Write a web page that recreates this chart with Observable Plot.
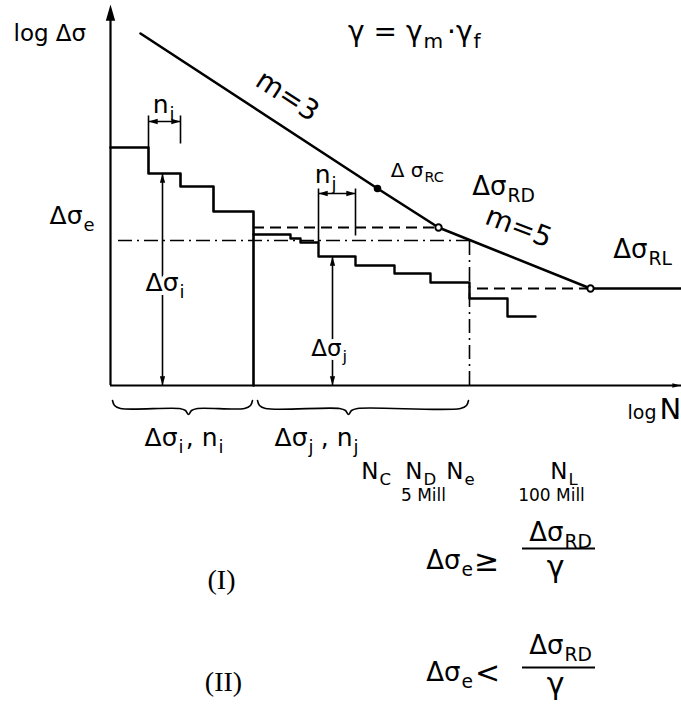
<!DOCTYPE html>
<html>
<head>
<meta charset="utf-8">
<script src="https://cdn.jsdelivr.net/npm/d3@7"></script>
<script src="https://cdn.jsdelivr.net/npm/@observablehq/plot@0.6"></script>
<style>
  html, body { margin: 0; padding: 0; background: #fff; }
</style>
</head>
<body>
<div id="chart"></div>
<script>
// ---- Data (x = log N units, y = log Δσ units, relative to axis origin) ----
// S-N curve: m=3 branch, knee at D, m=5 branch, cut-off at L
const curveLogN = [30, 267, 328, 480, 571];
const curveLogS = [352, 197, 158, 97, 97];

// characteristic points C, D, L
const pointName = ["RC", "RD", "RL"];
const pointLogN = [267, 328, 480];
const pointLogS = [197, 158, 97];
const pointOpen = [false, true, true];

// stress spectrum, block i
const blockI_N = [0, 38, 38, 70, 70, 103, 103, 143, 143];
const blockI_S = [238, 238, 212, 212, 199, 199, 174, 174, 0];
// stress spectrum, block j
const blockJ_N = [143, 180, 180, 190, 190, 208, 208, 245, 245, 284, 284, 320, 320, 359, 359, 397, 397, 425];
const blockJ_S = [151, 151, 147, 147, 143, 143, 129, 129, 120, 120, 112, 112, 103, 103, 87, 87, 69, 69];

// reference levels
const levelRD = 158, levelE = 145, levelRL = 97;
const logN_D = 328, logN_e = 359, logN_L = 480;

// dimension lines [x1, y1, x2, y2]
const dims = [
  [38, 264, 70, 264],   // n_i
  [52, 212, 52, 0],     // Δσ_i
  [208, 192, 245, 192], // n_j
  [222, 129, 222, 0]    // Δσ_j
];
const extTicks = [
  [38, 238, 38, 270], [70, 242, 70, 270],
  [208, 143, 208, 197], [245, 150, 245, 197]
];
// braces under the axis [start, end, tip]
const braces = [[2, 142, 78], [147, 358, 238]];

// labels with subscripts: [x (end of main), y baseline, main, sub, size, halo]
const subLabels = [
  [-28, 162, "Δσ", "e", 25, false],
  [68, 95, "Δσ", "i", 25, true],
  [58, 273, "n", "i", 25, false],
  [220, 203, "n", "j", 25, false],
  [231, 30, "Δσ", "j", 23, true],
  [313, 209, "Δ σ", "RC", 20, false],
  [396, 191, "Δσ", "RD", 26, false],
  [537, 128, "Δσ", "RL", 26, false],
  [312, 345, "γ = γ", "m", 28, false],
  [362, 345, "·γ", "f", 28, false],
  [67, -60, "Δσ", "i", 25, false],
  [107, -60, ", n", "i", 25, false],
  [197, -60, "Δσ", "j", 25, false],
  [242, -60, ", n", "j", 25, false],
  [268, -93, "N", "C", 23, false],
  [312, -93, "N", "D", 23, false],
  [353, -93, "N", "e", 23, false],
  [457, -93, "N", "L", 23, false],
  [350, -183, "Δσ", "e", 26, false],
  [453, -155, "Δσ", "RD", 26, false],
  [350, -295, "Δσ", "e", 26, false],
  [453, -268, "Δσ", "RD", 26, false]
];
// plain labels: [x, y, text, size, anchor, rotate, family]
const plainLabels = [
  [-97, 345, "log Δσ", 23, "start", 0, "sans"],
  [517, -33, "log", 19, "start", 0, "sans"],
  [549, -33, "N", 29, "start", 0, "sans"],
  [172, 282, "m=3", 28, "middle", 33, "sans"],
  [405, 150, "m=5", 28, "middle", 21, "sans"],
  [313, -115, "5 Mill", 17, "middle", 0, "sans"],
  [441, -115, "100 Mill", 17, "middle", 0, "sans"],
  [111, -203, "(I)", 28, "middle", 0, "serif"],
  [113, -305, "(II)", 28, "middle", 0, "serif"],
  [376, -185, "≥", 30, "middle", 0, "sans"],
  [377, -297, "<", 30, "middle", 0, "sans"],
  [445, -191, "γ", 30, "middle", 0, "sans"],
  [445, -308, "γ", 30, "middle", 0, "sans"]
];
const fractionY = [-163, -282];
const fractionX = [412, 485];

// ---- build ----
try {
const sans = "'DejaVu Sans',sans-serif";
const serif = "'Liberation Serif','DejaVu Serif',serif";
const zip = (a, b) => a.map((v, i) => ({x: v, y: b[i]}));

const arrowSym = {
  draw(ctx, size) {
    const s = Math.sqrt(size);
    ctx.moveTo(0, 0);
    ctx.lineTo(s * 0.33, s * 1.15);
    ctx.lineTo(-s * 0.33, s * 1.15);
    ctx.closePath();
  }
};

const heads = [];
dims.forEach(([x1, y1, x2, y2]) => {
  if (y1 === y2) {
    heads.push({x: x1, y: y1, r: x1 < x2 ? -90 : 90});
    heads.push({x: x2, y: y2, r: x2 > x1 ? 90 : -90});
  } else {
    heads.push({x: x1, y: y1, r: y1 > y2 ? 0 : 180});
    heads.push({x: x2, y: y2, r: y2 < y1 ? 180 : 0});
  }
});

const braceLines = braces.flatMap(([a, b, m], k) => {
  const top = -15, bar = -23, tip = -29;
  return [[a, top], [a + 2, bar + 3], [a + 8, bar], [m - 9, bar], [m - 3, bar - 2], [m, tip],
          [m + 3, bar - 2], [m + 9, bar], [b - 8, bar], [b - 2, bar + 3], [b, top]]
    .map(([x, y]) => ({x, y, k}));
});

const points = pointName.map((n, i) => ({name: n, x: pointLogN[i], y: pointLogS[i], open: pointOpen[i]}));
const subs = subLabels.map(([x, y, main, sub, size, halo]) => ({x, y, main, sub, size, halo}));
const plains = plainLabels.map(([x, y, text, size, anchor, rotate, fam]) => ({x, y, text, size, anchor, rotate, fam}));

const textMarks = [];
for (const anchor of ["start", "middle", "end"]) {
  for (const fam of ["sans", "serif"]) {
    const d = plains.filter(p => p.anchor === anchor && p.fam === fam);
    if (!d.length) continue;
    textMarks.push(Plot.text(d, {
      x: "x", y: "y", text: "text", fontSize: "size", rotate: "rotate",
      textAnchor: anchor, lineAnchor: "bottom",
      fontFamily: fam === "sans" ? sans : serif, fill: "black"
    }));
  }
}

const chart = Plot.plot({
  width: 681,
  height: 719,
  margin: 0,
  x: {domain: [-110, 571], range: [0, 681], axis: null},
  y: {domain: [-334, 385], range: [719, 0], axis: null},
  style: {fontFamily: sans, background: "white"},
  marks: [
    // axes
    Plot.ruleX([0], {y1: 0, y2: 372, stroke: "black", strokeWidth: 2.2}),
    Plot.ruleY([0], {x1: 0, x2: 571, stroke: "black", strokeWidth: 2.2}),
    Plot.dot([{x: 0, y: 381}], {x: "x", y: "y", symbol: arrowSym, r: 8, fill: "black", stroke: "none"}),
    Plot.dot([{x: 570, y: 0}], {x: "x", y: "y", symbol: arrowSym, r: 4, rotate: 90, fill: "black", stroke: "none"}),
    // reference lines
    Plot.ruleY([levelRD], {x1: 143, x2: logN_D, stroke: "black", strokeWidth: 1.8, strokeDasharray: "11,6"}),
    Plot.ruleY([levelE], {x1: 8, x2: logN_e, stroke: "black", strokeWidth: 1.6, strokeDasharray: "14,5,2,5"}),
    Plot.ruleX([logN_e], {y1: 0, y2: levelE, stroke: "black", strokeWidth: 1.6, strokeDasharray: "14,5,2,5"}),
    Plot.ruleY([levelRL], {x1: 367, x2: logN_L, stroke: "black", strokeWidth: 1.8, strokeDasharray: "11,6"}),
    // spectrum blocks
    Plot.line(zip(blockI_N, blockI_S), {x: "x", y: "y", stroke: "black", strokeWidth: 2.6}),
    Plot.line(zip(blockJ_N, blockJ_S), {x: "x", y: "y", stroke: "black", strokeWidth: 2.4}),
    // S-N curve
    Plot.line(zip(curveLogN, curveLogS), {x: "x", y: "y", stroke: "black", strokeWidth: 2.6}),
    // dimension lines
    Plot.link(extTicks, {x1: d => d[0], y1: d => d[1], x2: d => d[2], y2: d => d[3], stroke: "black", strokeWidth: 1.6}),
    Plot.link(dims, {x1: d => d[0], y1: d => d[1], x2: d => d[2], y2: d => d[3], stroke: "black", strokeWidth: 1.6}),
    Plot.dot(heads, {x: "x", y: "y", rotate: "r", symbol: arrowSym, r: 4.5, fill: "black", stroke: "none"}),
    // braces
    Plot.line(braceLines, {x: "x", y: "y", z: "k", stroke: "black", strokeWidth: 1.6, curve: "catmull-rom"}),
    // fraction bars
    ...fractionY.map(fy => Plot.ruleY([fy], {x1: fractionX[0], x2: fractionX[1], stroke: "black", strokeWidth: 2})),
    // characteristic points
    Plot.dot(points, {x: "x", y: "y", r: d => d.open ? 4.5 : 3.5, fill: d => d.open ? "white" : "black", stroke: "black", strokeWidth: 2}),
    // subscripted labels
    Plot.text(subs, {x: "x", y: "y", text: "main", fontSize: "size", textAnchor: "end", lineAnchor: "bottom",
      fill: "black", stroke: d => d.halo ? "white" : "none", strokeWidth: 8}),
    Plot.text(subs, {x: d => d.x + 1, y: d => d.y - d.size * 0.28, text: "sub", fontSize: d => d.size * 0.72,
      textAnchor: "start", lineAnchor: "bottom", fill: "black", stroke: d => d.halo ? "white" : "none", strokeWidth: 6}),
    ...textMarks
  ]
});
document.getElementById("chart").append(chart);
} catch (e) {
  document.getElementById("chart").textContent = "ERR: " + e.message;
}
</script>
</body>
</html>
